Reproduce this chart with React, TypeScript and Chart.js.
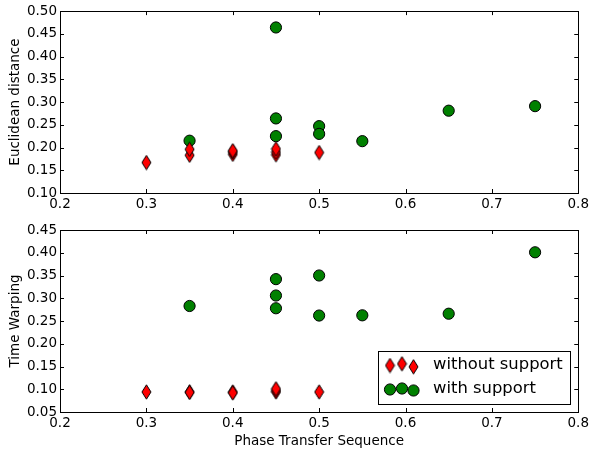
import React, { useEffect, useRef } from "react";
import { Chart, registerables } from "chart.js";

Chart.register(...registerables);

// ---- data ----
const xTickValues = [0.2, 0.3, 0.4, 0.5, 0.6, 0.7, 0.8];

const euclidWithoutX = [0.3, 0.35, 0.35, 0.4, 0.4, 0.4, 0.45, 0.45, 0.45, 0.5];
const euclidWithoutY = [0.167, 0.183, 0.196, 0.185, 0.19, 0.193, 0.184, 0.19, 0.197, 0.189];
const euclidWithX = [0.35, 0.45, 0.45, 0.45, 0.5, 0.5, 0.55, 0.65, 0.75];
const euclidWithY = [0.215, 0.464, 0.264, 0.225, 0.247, 0.23, 0.214, 0.281, 0.291];

const warpWithoutX = [0.3, 0.35, 0.35, 0.4, 0.4, 0.45, 0.45, 0.45, 0.5];
const warpWithoutY = [0.094, 0.094, 0.093, 0.094, 0.092, 0.094, 0.097, 0.101, 0.094];
const warpWithX = [0.35, 0.45, 0.45, 0.45, 0.5, 0.5, 0.55, 0.65, 0.75];
const warpWithY = [0.283, 0.342, 0.306, 0.278, 0.35, 0.262, 0.2625, 0.266, 0.401];

const seriesLabels = ["without support", "with support"];
const FONT = "DejaVu Sans";

function pts(xs: number[], ys: number[]) {
  return xs.map((x, i) => ({ x, y: ys[i] }));
}

function makeDiamond(): HTMLCanvasElement {
  const c = document.createElement("canvas");
  c.width = 11;
  c.height = 16;
  const ctx = c.getContext("2d")!;
  ctx.beginPath();
  ctx.moveTo(5.5, 0.8);
  ctx.lineTo(10, 8);
  ctx.lineTo(5.5, 15.2);
  ctx.lineTo(1, 8);
  ctx.closePath();
  ctx.fillStyle = "#ff0000";
  ctx.fill();
  ctx.lineWidth = 1;
  ctx.strokeStyle = "#000000";
  ctx.stroke();
  return c;
}

const framePlugin = {
  id: "frame",
  afterDraw(chart: any) {
    const { ctx, chartArea } = chart;
    const { left, right, top, bottom } = chartArea;
    ctx.save();
    ctx.strokeStyle = "#000";
    ctx.lineWidth = 1;
    ctx.strokeRect(Math.round(left) + 0.5, Math.round(top) + 0.5, Math.round(right - left), Math.round(bottom - top));
    const xs = chart.scales.x;
    const ys = chart.scales.y;
    const L = 4;
    ctx.beginPath();
    xs.ticks.forEach((t: any) => {
      const px = Math.round(xs.getPixelForValue(t.value)) + 0.5;
      ctx.moveTo(px, bottom);
      ctx.lineTo(px, bottom - L);
      ctx.moveTo(px, top);
      ctx.lineTo(px, top + L);
    });
    ys.ticks.forEach((t: any) => {
      const py = Math.round(ys.getPixelForValue(t.value)) + 0.5;
      ctx.moveTo(left, py);
      ctx.lineTo(left + L, py);
      ctx.moveTo(right, py);
      ctx.lineTo(right - L, py);
    });
    ctx.stroke();
    ctx.restore();
  },
};

function makeLegendPlugin(diamond: HTMLCanvasElement) {
  return {
    id: "mplLegend",
    afterDraw(chart: any) {
      const ctx = chart.ctx;
      ctx.save();
      const bx = 378.5, by = 136.5, bw = 192, bh = 53;
      ctx.fillStyle = "#fff";
      ctx.fillRect(bx, by, bw, bh);
      ctx.strokeStyle = "#000";
      ctx.lineWidth = 1;
      ctx.strokeRect(bx, by, bw, bh);
      const mx = [390, 402, 413.5];
      const dOff = [0.5, -1.2, 1.8];
      const cOff = [0.5, -0.5, 1.5];
      const row1 = 150, row2 = 174;
      mx.forEach((x, i) => {
        ctx.drawImage(diamond, x - diamond.width / 2, row1 + dOff[i] - diamond.height / 2);
      });
      mx.forEach((x, i) => {
        ctx.beginPath();
        ctx.arc(x, row2 + cOff[i], 5.6, 0, Math.PI * 2);
        ctx.fillStyle = "#008000";
        ctx.fill();
        ctx.strokeStyle = "#000";
        ctx.stroke();
      });
      ctx.fillStyle = "#000";
      ctx.font = `16.4px "${FONT}"`;
      ctx.textBaseline = "middle";
      ctx.textAlign = "left";
      ctx.fillText(seriesLabels[0], 433, row1);
      ctx.fillText(seriesLabels[1], 433, row2);
      ctx.restore();
    },
  };
}

function buildConfig(opts: {
  withoutPts: any[];
  withPts: any[];
  yMin: number;
  yMax: number;
  yTitle: string;
  xTitle?: string;
  padTop: number;
  xAxisHeight: number;
  diamond: HTMLCanvasElement;
  plugins: any[];
}): any {
  return {
    type: "scatter",
    data: {
      datasets: [
        {
          label: seriesLabels[0],
          data: opts.withoutPts,
          pointStyle: opts.diamond,
          backgroundColor: "#ff0000",
          borderColor: "#000",
          clip: false,
        },
        {
          label: seriesLabels[1],
          data: opts.withPts,
          pointStyle: "circle",
          pointRadius: 5.6,
          pointBorderWidth: 1,
          backgroundColor: "#008000",
          borderColor: "#000",
          clip: false,
        },
      ],
    },
    options: {
      animation: false,
      responsive: false,
      events: [],
      layout: { padding: { left: 0, right: 13, top: opts.padTop, bottom: 0 } },
      plugins: {
        legend: { display: false },
        tooltip: { enabled: false },
      },
      scales: {
        x: {
          type: "linear",
          min: 0.2,
          max: 0.8,
          afterBuildTicks: (scale: any) => {
            scale.ticks = xTickValues.map((v) => ({ value: v }));
          },
          afterFit: (scale: any) => {
            scale.height = opts.xAxisHeight;
          },
          grid: { display: false, drawTicks: false },
          border: { display: false },
          ticks: {
            color: "#000",
            font: { family: FONT, size: 13.5 },
            padding: 3,
            maxRotation: 0,
            callback: (v: any) => Number(v).toFixed(1),
          },
          title: {
            display: !!opts.xTitle,
            text: opts.xTitle || "",
            color: "#000",
            font: { family: FONT, size: 13.5 },
            padding: { top: 3, bottom: 0 },
          },
        },
        y: {
          type: "linear",
          min: opts.yMin,
          max: opts.yMax,
          ticks: {
            stepSize: 0.05,
            color: "#000",
            font: { family: FONT, size: 13.5 },
            padding: 3,
            callback: (v: any) => Number(v).toFixed(2),
          },
          afterFit: (scale: any) => {
            scale.width = 60;
          },
          grid: { display: false, drawTicks: false },
          border: { display: false },
          title: {
            display: true,
            text: opts.yTitle,
            color: "#000",
            font: { family: FONT, size: 13.5 },
            padding: { top: 7, bottom: 0 },
          },
        },
      },
    },
    plugins: opts.plugins,
  };
}

export default function App() {
  const topRef = useRef<HTMLCanvasElement>(null);
  const botRef = useRef<HTMLCanvasElement>(null);

  useEffect(() => {
    const diamond = makeDiamond();
    const top = new Chart(
      topRef.current!,
      buildConfig({
        withoutPts: pts(euclidWithoutX, euclidWithoutY),
        withPts: pts(euclidWithX, euclidWithY),
        yMin: 0.1,
        yMax: 0.5,
        yTitle: "Euclidean distance",
        padTop: 11,
        xAxisHeight: 22,
        diamond,
        plugins: [framePlugin],
      })
    );
    const bot = new Chart(
      botRef.current!,
      buildConfig({
        withoutPts: pts(warpWithoutX, warpWithoutY),
        withPts: pts(warpWithX, warpWithY),
        yMin: 0.05,
        yMax: 0.45,
        yTitle: "Time Warping",
        xTitle: "Phase Transfer Sequence",
        padTop: 15,
        xAxisHeight: 38,
        diamond,
        plugins: [framePlugin, makeLegendPlugin(diamond)],
      })
    );
    return () => {
      top.destroy();
      bot.destroy();
    };
  }, []);

  return (
    <div style={{ position: "absolute", left: 0, top: 0, width: 592, height: 450, background: "#fff" }}>
      <canvas ref={topRef} width={592} height={215} style={{ position: "absolute", left: 0, top: 0, width: 592, height: 215 }} />
      <canvas ref={botRef} width={592} height={235} style={{ position: "absolute", left: 0, top: 215, width: 592, height: 235 }} />
    </div>
  );
}
